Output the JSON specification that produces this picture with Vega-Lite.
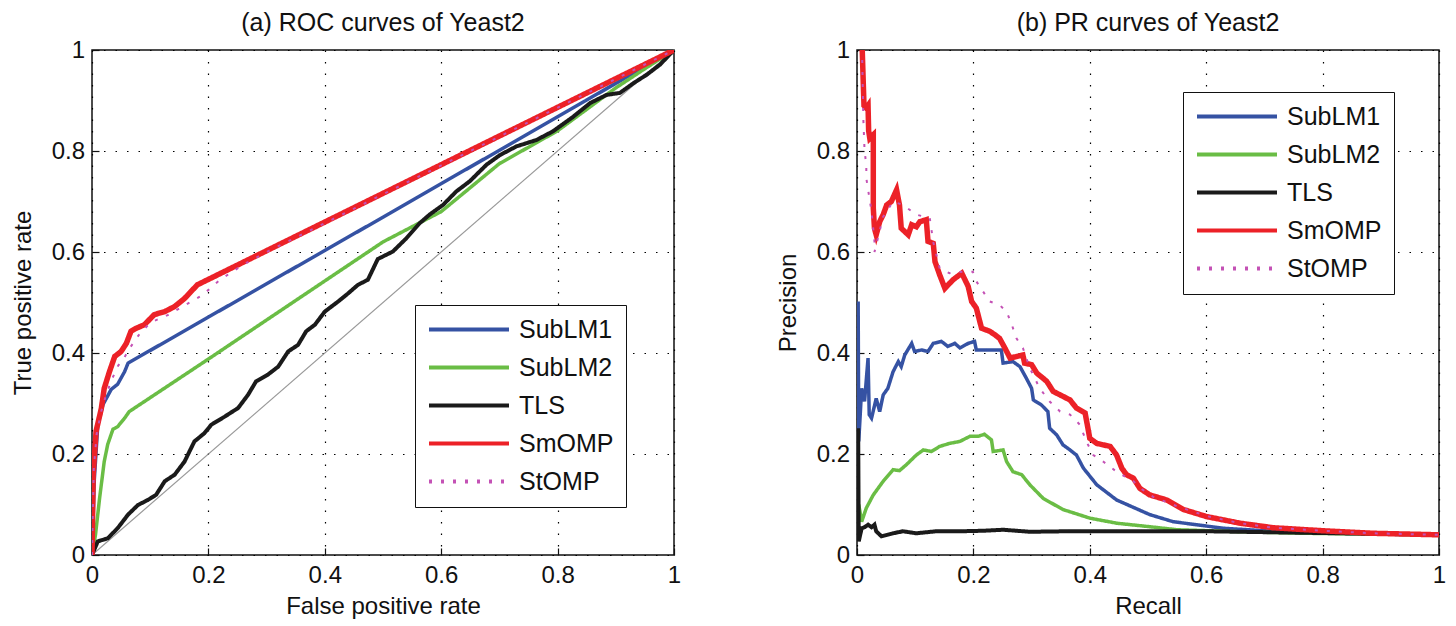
{
"$schema": "https://vega.github.io/schema/vega-lite/v6.json",
"background": "white",
"padding": {"left": 10, "top": 10, "right": 4, "bottom": 2},
"spacing": 93,
"resolve": {"scale": {"color": "independent", "strokeDash": "independent"}},
"config": {
  "view": {"stroke": "#111", "strokeWidth": 1.5},
  "title": {"font": "Liberation Sans", "fontSize": 25, "fontWeight": "normal", "color": "#111", "offset": 2, "anchor": "middle"},
  "axis": {"labelFont": "Liberation Sans", "labelFontSize": 24, "labelColor": "#111", "titleFont": "Liberation Sans", "titleFontSize": 24, "titleFontWeight": "normal", "titleColor": "#111", "domain": false, "grid": true, "gridColor": "#000", "gridDash": [1.5, 10], "gridWidth": 1.2, "gridOpacity": 1, "ticks": true, "tickColor": "#111", "tickSize": -7, "tickWidth": 1.2, "labelFlush": false, "labelOverlap": false},
  "legend": {"strokeColor": "#111", "fillColor": "white", "padding": 12, "symbolType": "stroke", "symbolSize": 6400, "symbolStrokeWidth": 4, "clipHeight": 25, "labelFont": "Liberation Sans", "labelFontSize": 25, "labelColor": "#111", "labelOffset": 8, "rowPadding": 12, "labelLimit": 0}
},
"datasets": {
"roc": [
{"m":"SubLM1","x":0,"y":0},{"m":"SubLM1","x":0.004,"y":0.15},{"m":"SubLM1","x":0.01,"y":0.258},{"m":"SubLM1","x":0.019,"y":0.298},{"m":"SubLM1","x":0.033,"y":0.328},{"m":"SubLM1","x":0.044,"y":0.338},{"m":"SubLM1","x":0.056,"y":0.363},{"m":"SubLM1","x":0.062,"y":0.38},{"m":"SubLM1","x":0.5,"y":0.669},{"m":"SubLM1","x":0.9,"y":0.934},{"m":"SubLM1","x":1,"y":1},
{"m":"SubLM2","x":0,"y":0},{"m":"SubLM2","x":0.006,"y":0.04},{"m":"SubLM2","x":0.013,"y":0.112},{"m":"SubLM2","x":0.021,"y":0.185},{"m":"SubLM2","x":0.027,"y":0.219},{"m":"SubLM2","x":0.036,"y":0.249},{"m":"SubLM2","x":0.044,"y":0.254},{"m":"SubLM2","x":0.056,"y":0.271},{"m":"SubLM2","x":0.064,"y":0.284},{"m":"SubLM2","x":0.2,"y":0.388},{"m":"SubLM2","x":0.5,"y":0.62},{"m":"SubLM2","x":0.6,"y":0.68},{"m":"SubLM2","x":0.7,"y":0.775},{"m":"SubLM2","x":0.8,"y":0.84},{"m":"SubLM2","x":0.9,"y":0.925},{"m":"SubLM2","x":0.95,"y":0.963},{"m":"SubLM2","x":1,"y":1},
{"m":"TLS","x":0,"y":0},{"m":"TLS","x":0.01,"y":0.027},{"m":"TLS","x":0.027,"y":0.033},{"m":"TLS","x":0.044,"y":0.053},{"m":"TLS","x":0.062,"y":0.08},{"m":"TLS","x":0.079,"y":0.099},{"m":"TLS","x":0.096,"y":0.109},{"m":"TLS","x":0.11,"y":0.119},{"m":"TLS","x":0.125,"y":0.146},{"m":"TLS","x":0.142,"y":0.159},{"m":"TLS","x":0.159,"y":0.185},{"m":"TLS","x":0.176,"y":0.225},{"m":"TLS","x":0.193,"y":0.241},{"m":"TLS","x":0.205,"y":0.258},{"m":"TLS","x":0.228,"y":0.274},{"m":"TLS","x":0.251,"y":0.291},{"m":"TLS","x":0.268,"y":0.317},{"m":"TLS","x":0.282,"y":0.344},{"m":"TLS","x":0.302,"y":0.357},{"m":"TLS","x":0.32,"y":0.373},{"m":"TLS","x":0.337,"y":0.403},{"m":"TLS","x":0.354,"y":0.416},{"m":"TLS","x":0.368,"y":0.443},{"m":"TLS","x":0.383,"y":0.456},{"m":"TLS","x":0.4,"y":0.482},{"m":"TLS","x":0.423,"y":0.502},{"m":"TLS","x":0.44,"y":0.518},{"m":"TLS","x":0.457,"y":0.535},{"m":"TLS","x":0.474,"y":0.545},{"m":"TLS","x":0.491,"y":0.586},{"m":"TLS","x":0.517,"y":0.601},{"m":"TLS","x":0.54,"y":0.627},{"m":"TLS","x":0.563,"y":0.657},{"m":"TLS","x":0.58,"y":0.674},{"m":"TLS","x":0.603,"y":0.693},{"m":"TLS","x":0.626,"y":0.72},{"m":"TLS","x":0.649,"y":0.74},{"m":"TLS","x":0.678,"y":0.773},{"m":"TLS","x":0.701,"y":0.792},{"m":"TLS","x":0.729,"y":0.809},{"m":"TLS","x":0.764,"y":0.822},{"m":"TLS","x":0.792,"y":0.839},{"m":"TLS","x":0.827,"y":0.868},{"m":"TLS","x":0.856,"y":0.895},{"m":"TLS","x":0.884,"y":0.911},{"m":"TLS","x":0.907,"y":0.915},{"m":"TLS","x":0.93,"y":0.934},{"m":"TLS","x":0.953,"y":0.951},{"m":"TLS","x":0.976,"y":0.971},{"m":"TLS","x":1,"y":1},
{"m":"SmOMP","x":0,"y":0},{"m":"SmOMP","x":0.002,"y":0.159},{"m":"SmOMP","x":0.007,"y":0.245},{"m":"SmOMP","x":0.016,"y":0.29},{"m":"SmOMP","x":0.021,"y":0.33},{"m":"SmOMP","x":0.03,"y":0.363},{"m":"SmOMP","x":0.039,"y":0.393},{"m":"SmOMP","x":0.05,"y":0.403},{"m":"SmOMP","x":0.059,"y":0.419},{"m":"SmOMP","x":0.067,"y":0.443},{"m":"SmOMP","x":0.076,"y":0.449},{"m":"SmOMP","x":0.09,"y":0.456},{"m":"SmOMP","x":0.107,"y":0.476},{"m":"SmOMP","x":0.125,"y":0.482},{"m":"SmOMP","x":0.142,"y":0.492},{"m":"SmOMP","x":0.159,"y":0.508},{"m":"SmOMP","x":0.181,"y":0.535},{"m":"SmOMP","x":1,"y":1},
{"m":"StOMP","x":0,"y":0},{"m":"StOMP","x":0.003,"y":0.17},{"m":"StOMP","x":0.008,"y":0.24},{"m":"StOMP","x":0.016,"y":0.285},{"m":"StOMP","x":0.025,"y":0.32},{"m":"StOMP","x":0.035,"y":0.35},{"m":"StOMP","x":0.045,"y":0.375},{"m":"StOMP","x":0.055,"y":0.39},{"m":"StOMP","x":0.065,"y":0.41},{"m":"StOMP","x":0.08,"y":0.435},{"m":"StOMP","x":0.1,"y":0.46},{"m":"StOMP","x":0.13,"y":0.475},{"m":"StOMP","x":0.16,"y":0.495},{"m":"StOMP","x":0.19,"y":0.515},{"m":"StOMP","x":0.22,"y":0.545},{"m":"StOMP","x":0.26,"y":0.575},{"m":"StOMP","x":0.3,"y":0.6},{"m":"StOMP","x":1,"y":1}
],
"pr": [
{"m":"SubLM1","x":0.002,"y":0.502},{"m":"SubLM1","x":0.003,"y":0.225},{"m":"SubLM1","x":0.008,"y":0.33},{"m":"SubLM1","x":0.013,"y":0.304},{"m":"SubLM1","x":0.019,"y":0.39},{"m":"SubLM1","x":0.021,"y":0.278},{"m":"SubLM1","x":0.025,"y":0.271},{"m":"SubLM1","x":0.033,"y":0.31},{"m":"SubLM1","x":0.039,"y":0.284},{"m":"SubLM1","x":0.045,"y":0.317},{"m":"SubLM1","x":0.053,"y":0.33},{"m":"SubLM1","x":0.062,"y":0.363},{"m":"SubLM1","x":0.071,"y":0.383},{"m":"SubLM1","x":0.076,"y":0.373},{"m":"SubLM1","x":0.082,"y":0.396},{"m":"SubLM1","x":0.094,"y":0.419},{"m":"SubLM1","x":0.099,"y":0.403},{"m":"SubLM1","x":0.111,"y":0.406},{"m":"SubLM1","x":0.122,"y":0.403},{"m":"SubLM1","x":0.131,"y":0.419},{"m":"SubLM1","x":0.145,"y":0.423},{"m":"SubLM1","x":0.156,"y":0.413},{"m":"SubLM1","x":0.168,"y":0.419},{"m":"SubLM1","x":0.177,"y":0.41},{"m":"SubLM1","x":0.191,"y":0.419},{"m":"SubLM1","x":0.202,"y":0.423},{"m":"SubLM1","x":0.205,"y":0.406},{"m":"SubLM1","x":0.228,"y":0.406},{"m":"SubLM1","x":0.248,"y":0.406},{"m":"SubLM1","x":0.251,"y":0.38},{"m":"SubLM1","x":0.268,"y":0.383},{"m":"SubLM1","x":0.28,"y":0.373},{"m":"SubLM1","x":0.291,"y":0.35},{"m":"SubLM1","x":0.3,"y":0.33},{"m":"SubLM1","x":0.303,"y":0.307},{"m":"SubLM1","x":0.317,"y":0.297},{"m":"SubLM1","x":0.328,"y":0.284},{"m":"SubLM1","x":0.331,"y":0.251},{"m":"SubLM1","x":0.343,"y":0.238},{"m":"SubLM1","x":0.354,"y":0.218},{"m":"SubLM1","x":0.366,"y":0.208},{"m":"SubLM1","x":0.377,"y":0.198},{"m":"SubLM1","x":0.389,"y":0.172},{"m":"SubLM1","x":0.412,"y":0.139},{"m":"SubLM1","x":0.446,"y":0.109},{"m":"SubLM1","x":0.503,"y":0.08},{"m":"SubLM1","x":0.543,"y":0.066},{"m":"SubLM1","x":0.629,"y":0.053},{"m":"SubLM1","x":0.715,"y":0.047},{"m":"SubLM1","x":0.83,"y":0.043},{"m":"SubLM1","x":1,"y":0.04},
{"m":"SubLM2","x":0.003,"y":0.1},{"m":"SubLM2","x":0.008,"y":0.066},{"m":"SubLM2","x":0.016,"y":0.093},{"m":"SubLM2","x":0.028,"y":0.119},{"m":"SubLM2","x":0.045,"y":0.146},{"m":"SubLM2","x":0.062,"y":0.169},{"m":"SubLM2","x":0.073,"y":0.167},{"m":"SubLM2","x":0.085,"y":0.179},{"m":"SubLM2","x":0.102,"y":0.198},{"m":"SubLM2","x":0.114,"y":0.208},{"m":"SubLM2","x":0.128,"y":0.205},{"m":"SubLM2","x":0.142,"y":0.215},{"m":"SubLM2","x":0.159,"y":0.221},{"m":"SubLM2","x":0.177,"y":0.225},{"m":"SubLM2","x":0.194,"y":0.235},{"m":"SubLM2","x":0.208,"y":0.235},{"m":"SubLM2","x":0.219,"y":0.239},{"m":"SubLM2","x":0.231,"y":0.228},{"m":"SubLM2","x":0.234,"y":0.205},{"m":"SubLM2","x":0.251,"y":0.208},{"m":"SubLM2","x":0.257,"y":0.185},{"m":"SubLM2","x":0.268,"y":0.165},{"m":"SubLM2","x":0.283,"y":0.159},{"m":"SubLM2","x":0.297,"y":0.139},{"m":"SubLM2","x":0.32,"y":0.112},{"m":"SubLM2","x":0.354,"y":0.09},{"m":"SubLM2","x":0.4,"y":0.073},{"m":"SubLM2","x":0.446,"y":0.063},{"m":"SubLM2","x":0.503,"y":0.056},{"m":"SubLM2","x":0.55,"y":0.05},{"m":"SubLM2","x":0.66,"y":0.046},{"m":"SubLM2","x":0.77,"y":0.043},{"m":"SubLM2","x":1,"y":0.04},
{"m":"TLS","x":0.002,"y":0.251},{"m":"TLS","x":0.003,"y":0.027},{"m":"TLS","x":0.008,"y":0.053},{"m":"TLS","x":0.013,"y":0.055},{"m":"TLS","x":0.019,"y":0.06},{"m":"TLS","x":0.025,"y":0.055},{"m":"TLS","x":0.03,"y":0.06},{"m":"TLS","x":0.033,"y":0.047},{"m":"TLS","x":0.042,"y":0.037},{"m":"TLS","x":0.062,"y":0.043},{"m":"TLS","x":0.079,"y":0.047},{"m":"TLS","x":0.102,"y":0.043},{"m":"TLS","x":0.136,"y":0.047},{"m":"TLS","x":0.177,"y":0.047},{"m":"TLS","x":0.217,"y":0.048},{"m":"TLS","x":0.251,"y":0.05},{"m":"TLS","x":0.297,"y":0.046},{"m":"TLS","x":0.36,"y":0.047},{"m":"TLS","x":0.446,"y":0.047},{"m":"TLS","x":0.503,"y":0.047},{"m":"TLS","x":0.601,"y":0.047},{"m":"TLS","x":0.77,"y":0.044},{"m":"TLS","x":1,"y":0.04},
{"m":"SmOMP","x":0.009,"y":1.0},{"m":"SmOMP","x":0.012,"y":0.89},{"m":"SmOMP","x":0.016,"y":0.885},{"m":"SmOMP","x":0.019,"y":0.89},{"m":"SmOMP","x":0.02,"y":0.84},{"m":"SmOMP","x":0.022,"y":0.825},{"m":"SmOMP","x":0.028,"y":0.832},{"m":"SmOMP","x":0.028,"y":0.74},{"m":"SmOMP","x":0.028,"y":0.687},{"m":"SmOMP","x":0.03,"y":0.647},{"m":"SmOMP","x":0.033,"y":0.634},{"m":"SmOMP","x":0.039,"y":0.66},{"m":"SmOMP","x":0.045,"y":0.674},{"m":"SmOMP","x":0.051,"y":0.693},{"m":"SmOMP","x":0.059,"y":0.7},{"m":"SmOMP","x":0.068,"y":0.723},{"m":"SmOMP","x":0.073,"y":0.693},{"m":"SmOMP","x":0.076,"y":0.647},{"m":"SmOMP","x":0.088,"y":0.634},{"m":"SmOMP","x":0.094,"y":0.654},{"m":"SmOMP","x":0.102,"y":0.65},{"m":"SmOMP","x":0.108,"y":0.66},{"m":"SmOMP","x":0.119,"y":0.664},{"m":"SmOMP","x":0.122,"y":0.621},{"m":"SmOMP","x":0.131,"y":0.617},{"m":"SmOMP","x":0.134,"y":0.581},{"m":"SmOMP","x":0.142,"y":0.555},{"m":"SmOMP","x":0.151,"y":0.528},{"m":"SmOMP","x":0.165,"y":0.545},{"m":"SmOMP","x":0.18,"y":0.558},{"m":"SmOMP","x":0.191,"y":0.532},{"m":"SmOMP","x":0.197,"y":0.502},{"m":"SmOMP","x":0.205,"y":0.489},{"m":"SmOMP","x":0.214,"y":0.449},{"m":"SmOMP","x":0.228,"y":0.443},{"m":"SmOMP","x":0.237,"y":0.436},{"m":"SmOMP","x":0.245,"y":0.429},{"m":"SmOMP","x":0.254,"y":0.41},{"m":"SmOMP","x":0.263,"y":0.39},{"m":"SmOMP","x":0.274,"y":0.393},{"m":"SmOMP","x":0.285,"y":0.396},{"m":"SmOMP","x":0.288,"y":0.38},{"m":"SmOMP","x":0.3,"y":0.377},{"m":"SmOMP","x":0.309,"y":0.36},{"m":"SmOMP","x":0.326,"y":0.344},{"m":"SmOMP","x":0.337,"y":0.324},{"m":"SmOMP","x":0.349,"y":0.317},{"m":"SmOMP","x":0.366,"y":0.307},{"m":"SmOMP","x":0.377,"y":0.291},{"m":"SmOMP","x":0.392,"y":0.281},{"m":"SmOMP","x":0.4,"y":0.231},{"m":"SmOMP","x":0.412,"y":0.221},{"m":"SmOMP","x":0.435,"y":0.215},{"m":"SmOMP","x":0.446,"y":0.198},{"m":"SmOMP","x":0.455,"y":0.172},{"m":"SmOMP","x":0.463,"y":0.159},{"m":"SmOMP","x":0.475,"y":0.152},{"m":"SmOMP","x":0.486,"y":0.132},{"m":"SmOMP","x":0.503,"y":0.119},{"m":"SmOMP","x":0.532,"y":0.109},{"m":"SmOMP","x":0.561,"y":0.09},{"m":"SmOMP","x":0.601,"y":0.076},{"m":"SmOMP","x":0.658,"y":0.063},{"m":"SmOMP","x":0.715,"y":0.054},{"m":"SmOMP","x":0.801,"y":0.048},{"m":"SmOMP","x":0.887,"y":0.043},{"m":"SmOMP","x":1,"y":0.04},
{"m":"StOMP","x":0.009,"y":0.98},{"m":"StOMP","x":0.011,"y":0.86},{"m":"StOMP","x":0.013,"y":0.8},{"m":"StOMP","x":0.016,"y":0.773},{"m":"StOMP","x":0.016,"y":0.746},{"m":"StOMP","x":0.025,"y":0.68},{"m":"StOMP","x":0.03,"y":0.621},{"m":"StOMP","x":0.03,"y":0.6},{"m":"StOMP","x":0.045,"y":0.67},{"m":"StOMP","x":0.062,"y":0.7},{"m":"StOMP","x":0.079,"y":0.693},{"m":"StOMP","x":0.102,"y":0.674},{"m":"StOMP","x":0.125,"y":0.667},{"m":"StOMP","x":0.131,"y":0.62},{"m":"StOMP","x":0.142,"y":0.568},{"m":"StOMP","x":0.159,"y":0.558},{"m":"StOMP","x":0.182,"y":0.561},{"m":"StOMP","x":0.199,"y":0.561},{"m":"StOMP","x":0.205,"y":0.542},{"m":"StOMP","x":0.228,"y":0.502},{"m":"StOMP","x":0.245,"y":0.495},{"m":"StOMP","x":0.257,"y":0.482},{"m":"StOMP","x":0.266,"y":0.456},{"m":"StOMP","x":0.274,"y":0.429},{"m":"StOMP","x":0.285,"y":0.41},{"m":"StOMP","x":0.297,"y":0.37},{"m":"StOMP","x":0.314,"y":0.33},{"m":"StOMP","x":0.331,"y":0.304},{"m":"StOMP","x":0.349,"y":0.284},{"m":"StOMP","x":0.366,"y":0.278},{"m":"StOMP","x":0.383,"y":0.258},{"m":"StOMP","x":0.394,"y":0.225},{"m":"StOMP","x":0.406,"y":0.198},{"m":"StOMP","x":0.423,"y":0.185},{"m":"StOMP","x":0.446,"y":0.165},{"m":"StOMP","x":0.475,"y":0.146},{"m":"StOMP","x":0.49,"y":0.13},{"m":"StOMP","x":0.509,"y":0.115},{"m":"StOMP","x":0.549,"y":0.097},{"m":"StOMP","x":0.601,"y":0.077},{"m":"StOMP","x":0.658,"y":0.063},{"m":"StOMP","x":0.715,"y":0.054},{"m":"StOMP","x":0.801,"y":0.048},{"m":"StOMP","x":0.887,"y":0.043},{"m":"StOMP","x":1,"y":0.04}
]
},
"hconcat": [
{
  "width": 582, "height": 505,
  "title": "(a) ROC curves of Yeast2",
  "data": {"name": "roc"},
  "encoding": {
    "x": {"field": "x", "type": "quantitative", "scale": {"domain": [0, 1], "nice": false}, "axis": {"values": [0, 0.2, 0.4, 0.6, 0.8, 1], "format": "~g", "title": "False positive rate", "labelPadding": 15, "titlePadding": 7}},
    "y": {"field": "y", "type": "quantitative", "scale": {"domain": [0, 1], "nice": false}, "axis": {"values": [0, 0.2, 0.4, 0.6, 0.8, 1], "format": "~g", "title": "True positive rate", "labelPadding": 14.5, "titlePadding": 16}},
    "order": {"value": null}
  },
  "layer": [
    {"data": {"values": [{"x": 0, "y": 0}, {"x": 1, "y": 1}]}, "mark": {"type": "line", "color": "#999999", "strokeWidth": 1.2}},
    {"transform": [{"filter": "datum.m === 'SubLM1'"}], "mark": {"type": "line", "strokeWidth": 3.5, "clip": true},
     "encoding": {"color": {"field": "m", "type": "nominal", "scale": {"domain": ["SubLM1", "SubLM2", "TLS", "SmOMP", "StOMP"], "range": ["#3552A3", "#6ABD45", "#1A1A1A", "#EC2127", "#C451B5"]}, "legend": {"title": null, "orient": "none", "legendX": 323, "legendY": 255}},
                  "strokeDash": {"field": "m", "type": "nominal", "scale": {"domain": ["SubLM1", "SubLM2", "TLS", "SmOMP", "StOMP"], "range": [[1, 0], [1, 0], [1, 0], [1, 0], [3, 9]]}, "legend": {"title": null, "orient": "none", "legendX": 323, "legendY": 255}}}},
    {"transform": [{"filter": "datum.m === 'SubLM2'"}], "mark": {"type": "line", "strokeWidth": 3.5, "clip": true},
     "encoding": {"color": {"field": "m", "type": "nominal"}, "strokeDash": {"field": "m", "type": "nominal"}}},
    {"transform": [{"filter": "datum.m === 'TLS'"}], "mark": {"type": "line", "strokeWidth": 4, "clip": true},
     "encoding": {"color": {"field": "m", "type": "nominal"}, "strokeDash": {"field": "m", "type": "nominal"}}},
    {"transform": [{"filter": "datum.m === 'SmOMP'"}], "mark": {"type": "line", "strokeWidth": 5.5, "clip": true},
     "encoding": {"color": {"field": "m", "type": "nominal"}, "strokeDash": {"field": "m", "type": "nominal"}}},
    {"transform": [{"filter": "datum.m === 'StOMP'"}], "mark": {"type": "line", "strokeWidth": 2, "clip": true},
     "encoding": {"color": {"field": "m", "type": "nominal"}, "strokeDash": {"field": "m", "type": "nominal"}}}
  ]
},
{
  "width": 582, "height": 505,
  "title": "(b) PR curves of Yeast2",
  "data": {"name": "pr"},
  "encoding": {
    "x": {"field": "x", "type": "quantitative", "scale": {"domain": [0, 1], "nice": false}, "axis": {"values": [0, 0.2, 0.4, 0.6, 0.8, 1], "format": "~g", "title": "Recall", "labelPadding": 15, "titlePadding": 7}},
    "y": {"field": "y", "type": "quantitative", "scale": {"domain": [0, 1], "nice": false}, "axis": {"values": [0, 0.2, 0.4, 0.6, 0.8, 1], "format": "~g", "title": "Precision", "labelPadding": 14.5, "titlePadding": 16}},
    "order": {"value": null}
  },
  "layer": [
    {"transform": [{"filter": "datum.m === 'SubLM1'"}], "mark": {"type": "line", "strokeWidth": 3.5, "clip": true},
     "encoding": {"color": {"field": "m", "type": "nominal", "scale": {"domain": ["SubLM1", "SubLM2", "TLS", "SmOMP", "StOMP"], "range": ["#3552A3", "#6ABD45", "#1A1A1A", "#EC2127", "#C451B5"]}, "legend": {"title": null, "orient": "none", "legendX": 326, "legendY": 42}},
                  "strokeDash": {"field": "m", "type": "nominal", "scale": {"domain": ["SubLM1", "SubLM2", "TLS", "SmOMP", "StOMP"], "range": [[1, 0], [1, 0], [1, 0], [1, 0], [3, 9]]}, "legend": {"title": null, "orient": "none", "legendX": 326, "legendY": 42}}}},
    {"transform": [{"filter": "datum.m === 'SubLM2'"}], "mark": {"type": "line", "strokeWidth": 3.5, "clip": true},
     "encoding": {"color": {"field": "m", "type": "nominal"}, "strokeDash": {"field": "m", "type": "nominal"}}},
    {"transform": [{"filter": "datum.m === 'TLS'"}], "mark": {"type": "line", "strokeWidth": 4, "clip": true},
     "encoding": {"color": {"field": "m", "type": "nominal"}, "strokeDash": {"field": "m", "type": "nominal"}}},
    {"transform": [{"filter": "datum.m === 'SmOMP'"}], "mark": {"type": "line", "strokeWidth": 5.5, "clip": true},
     "encoding": {"color": {"field": "m", "type": "nominal"}, "strokeDash": {"field": "m", "type": "nominal"}}},
    {"transform": [{"filter": "datum.m === 'StOMP'"}], "mark": {"type": "line", "strokeWidth": 2, "clip": true},
     "encoding": {"color": {"field": "m", "type": "nominal"}, "strokeDash": {"field": "m", "type": "nominal"}}}
  ]
}
]
}
